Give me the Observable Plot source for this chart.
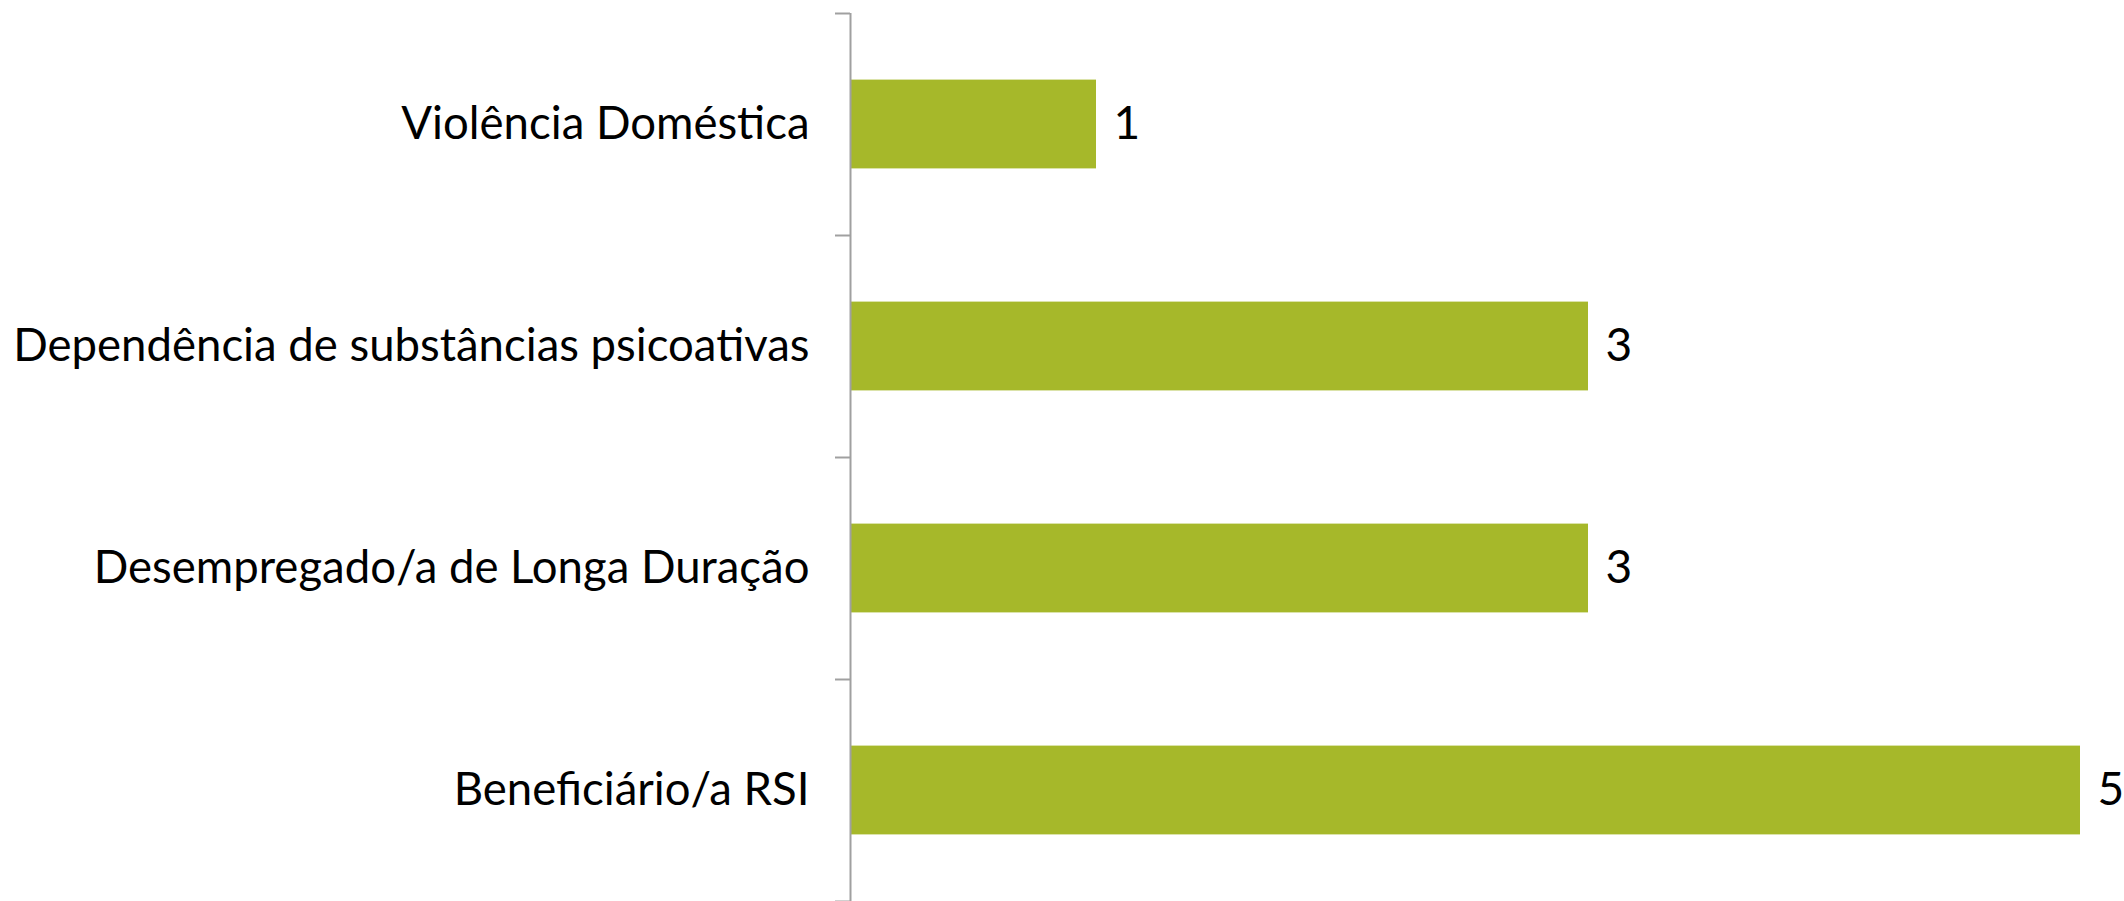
<!DOCTYPE html>
<html>
<head>
<meta charset="utf-8">
<script src="https://cdn.jsdelivr.net/npm/d3@7"></script>
<script src="https://cdn.jsdelivr.net/npm/@observablehq/plot@0.6"></script>
<style>
  html, body { margin: 0; padding: 0; background: #fff; }
  #chart svg { display: block; }
</style>
</head>
<body>
<div id="chart"></div>
<script>
const categories = [
  "Violência Doméstica",
  "Dependência de substâncias psicoativas",
  "Desempregado/a de Longa Duração",
  "Beneficiário/a RSI"
];
const values = [1, 3, 3, 5];
const boundaries = [0, 1, 2, 3, 4];

const data = categories.map((name, i) => ({name, value: values[i], idx: i}));

const font = "Lato, 'Open Sans', sans-serif";
const plot = Plot.plot({
  width: 2124,
  height: 901,
  marginLeft: 850,
  marginRight: 44,
  marginTop: 13,
  marginBottom: 0,
  style: {fontFamily: font, background: "#fff"},
  x: {domain: [0, 5], axis: null},
  y: {domain: [0, 4], reverse: true, axis: null},
  marks: [
    Plot.rectX(data, {x1: 0, x2: "value", y1: d => d.idx + 0.3, y2: d => d.idx + 0.7, fill: "#a6b82a"}),
    Plot.ruleX([0], {y1: 0, y2: 4, stroke: "#a0a0a0", strokeWidth: 2}),
    Plot.axisY({ticks: boundaries, tickSize: 15, tickFormat: () => "", stroke: "#a0a0a0", strokeWidth: 2, anchor: "left", label: null}),
    Plot.text(data, {x: 0, y: d => d.idx + 0.5, text: "name", textAnchor: "end", dx: -41, fontSize: 45.5, fill: "#000"}),
    Plot.text(data, {x: "value", y: d => d.idx + 0.5, text: d => String(d.value), textAnchor: "start", dx: 17, fontSize: 46, fill: "#000"})
  ]
});
document.getElementById("chart").appendChild(plot);
</script>
</body>
</html>
